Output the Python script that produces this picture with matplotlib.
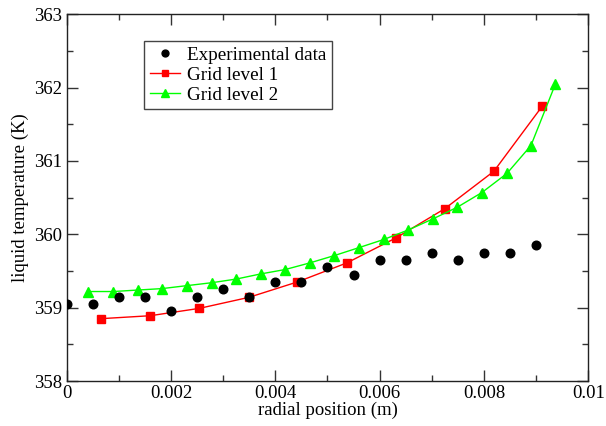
import matplotlib
matplotlib.use("Agg")
import matplotlib.pyplot as plt
from matplotlib.ticker import MultipleLocator, FuncFormatter

# Experimental data
exp_x = [0.0, 0.0005, 0.001, 0.0015, 0.002, 0.0025, 0.003, 0.0035, 0.004, 0.0045,
         0.005, 0.0055, 0.006, 0.0065, 0.007, 0.0075, 0.008, 0.0085, 0.009]
exp_y = [359.05, 359.05, 359.15, 359.15, 358.95, 359.15, 359.25, 359.15, 359.35, 359.35,
         359.55, 359.45, 359.65, 359.65, 359.75, 359.65, 359.75, 359.75, 359.85]

# Grid level 1
g1_x = [0.00066, 0.0016, 0.00254, 0.00349, 0.00442, 0.00537, 0.00631, 0.00725, 0.00819, 0.00912]
g1_y = [358.85, 358.89, 358.99, 359.14, 359.35, 359.61, 359.95, 360.35, 360.86, 361.75]

# Grid level 2
g2_x = [0.000415, 0.00089, 0.00136, 0.00183, 0.0023, 0.00278, 0.00325, 0.00372, 0.00419,
        0.00466, 0.00513, 0.00561, 0.00608, 0.00655, 0.00702, 0.00749, 0.00796, 0.00844,
        0.0089, 0.00937]
g2_y = [359.22, 359.22, 359.24, 359.26, 359.30, 359.34, 359.39, 359.46, 359.52,
        359.61, 359.71, 359.82, 359.93, 360.06, 360.21, 360.37, 360.57, 360.83,
        361.21, 362.05]

plt.rcParams['font.family'] = ['Liberation Serif', 'DejaVu Serif']

fig = plt.figure(figsize=(6.06, 4.26), dpi=100)
ax = fig.add_axes([66.7/606, 45/426, (588.3-66.7)/606, (381-14.3)/426])

ax.plot(exp_x, exp_y, linestyle='none', marker='o', color='black', markersize=6.2,
        label='Experimental data', zorder=4)
ax.plot(g1_x, g1_y, color='#ff0000', linewidth=1, marker='s', markersize=5.5,
        markerfacecolor='#ff0000', markeredgecolor='#ff0000', label='Grid level 1', zorder=3)
ax.plot(g2_x, g2_y, color='#00ff00', linewidth=1, marker='^', markersize=6.5,
        markerfacecolor='#00ff00', markeredgecolor='#00ff00', label='Grid level 2', zorder=3)

ax.set_xlim(0, 0.01)
ax.set_ylim(358, 363)
ax.xaxis.set_major_locator(MultipleLocator(0.002))
ax.xaxis.set_minor_locator(MultipleLocator(0.001))
ax.yaxis.set_major_locator(MultipleLocator(1))
ax.yaxis.set_minor_locator(MultipleLocator(0.5))
ax.xaxis.set_major_formatter(FuncFormatter(lambda v, p: '%g' % round(v, 6)))
ax.yaxis.set_major_formatter(FuncFormatter(lambda v, p: '%g' % round(v, 6)))

ax.tick_params(which='both', direction='in', top=True, right=True, labelsize=13.5,
               color='#333333')
ax.tick_params(which='major', length=8, width=1, pad=3)
ax.tick_params(which='minor', length=4, width=1)
for s in ax.spines.values():
    s.set_linewidth(1.0)
    s.set_color('#222222')

ax.set_xlabel('radial position (m)', fontsize=13.5, labelpad=0)
ax.set_ylabel('liquid temperature (K)', fontsize=13.5, labelpad=4)

leg = ax.legend(loc='upper left', bbox_to_anchor=((144-66.7)/521.6, (381-41)/366.7),
                borderaxespad=0, fontsize=13.8, frameon=True, fancybox=False,
                edgecolor='#444444', framealpha=1, borderpad=0.3, labelspacing=0.12,
                handlelength=1.6, handletextpad=0.35, markerscale=0.8)
leg.get_frame().set_linewidth(1.0)

fig.savefig('out.png', dpi=100)
